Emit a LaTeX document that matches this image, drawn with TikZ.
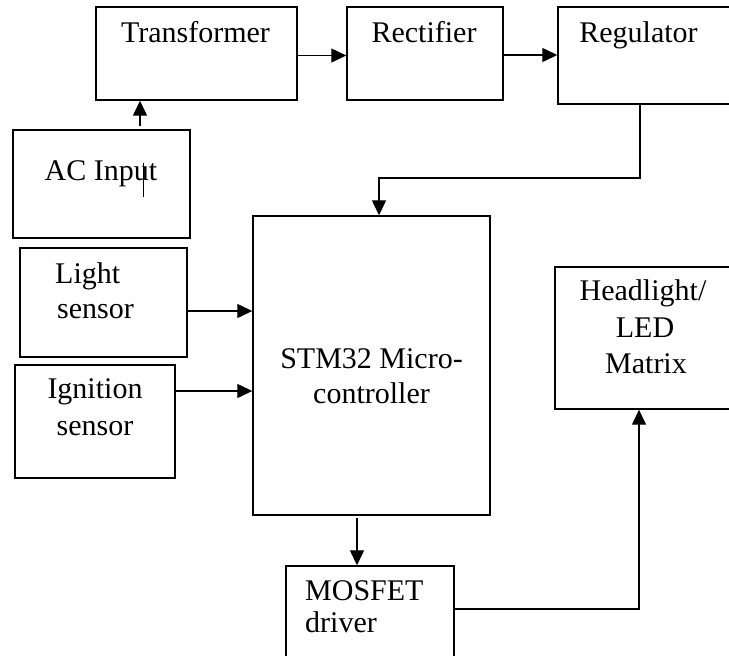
\documentclass[tikz,border=0pt]{standalone}
\usepackage{fontspec}
\setmainfont{Liberation Serif}
\usetikzlibrary{arrows.meta}
\tikzset{
  box/.style={draw, line width=1.4pt, inner sep=0pt},
  lbl/.style={inner sep=0pt, anchor=base, font=\fontsize{30}{36}\selectfont},
  lbll/.style={inner sep=0pt, anchor=base west, font=\fontsize{30}{36}\selectfont},
  arr/.style={line width=1.3pt, -{Triangle[length=15pt,width=14pt]}},
  wire/.style={line width=1.3pt}
}
\begin{document}
\begin{tikzpicture}[x=1pt,y=-1pt]
\useasboundingbox (0,0) rectangle (729,656);
% boxes
\node[box, minimum width=201pt, minimum height=93pt] (tr) at (196.5,53.5) {};
\node[box, minimum width=156pt, minimum height=93pt] (re) at (425,53.5) {};
\node[box, minimum width=180pt, minimum height=97pt] (rg) at (648,55.5) {};
\node[box, minimum width=177pt, minimum height=108pt] (ac) at (101.5,184) {};
\node[box, minimum width=237pt, minimum height=299pt] (stm) at (371.5,365.5) {};
\node[box, minimum width=167pt, minimum height=109pt] (ls) at (103.5,302.5) {};
\node[box, minimum width=160pt, minimum height=113pt] (ig) at (95,421.5) {};
\node[box, minimum width=180pt, minimum height=142pt] (hl) at (645,338) {};
\node[box, minimum width=168pt, minimum height=100pt] (mo) at (370,616) {};
% texts
\node[lbl] (trt) at (195.5,42) {Transformer};
\node[lbl] (ret) at (424,42) {Rectifier};
\node[lbl] (rgt) at (638.5,42) {Regulator};
\node[lbl] (act) at (101,180) {AC Input};
\node[lbll] (lst1) at (55,283) {Light};
\node[lbll] (lst2) at (57,318) {sensor};
\node[lbl] (igt1) at (95,398) {Ignition};
\node[lbl] (igt2) at (95,435) {sensor};
\node[lbl] (stt1) at (371.5,368) {STM32 Micro-};
\node[lbl] (stt2) at (371.5,403) {controller};
\node[lbl] (hlt1) at (643,300) {Headlight/};
\node[lbl] (hlt2) at (645,337) {LED};
\node[lbl] (hlt3) at (646,373) {Matrix};
\node[lbll] (mot1) at (305,600) {MOSFET};
\node[lbll] (mot2) at (305,632) {driver};
% stray mark in AC Input
\draw[line width=1pt] (143,163) -- (143,197);
% connectors
\draw[arr] ([xshift=38.5pt,yshift=3pt]ac.north) -- ([xshift=38.5pt]ac.north |- tr.south);
\draw[arr] ([yshift=-2pt]tr.east) -- ([yshift=-2pt]tr.east -| re.west);
\draw[arr] ([yshift=-1.5pt]re.east) -- ([yshift=-1.5pt]re.east -| rg.west);
\coordinate (j1) at (379,178);
\draw[arr] ([xshift=-8pt]rg.south) |- (j1) -- (j1 |- stm.north);
\draw[arr] ([yshift=-8.5pt]ls.east) -- ([yshift=-8.5pt]ls.east -| stm.west);
\draw[arr] ([yshift=30.5pt]ig.east) -- ([yshift=30.5pt]ig.east -| stm.west);
\draw[arr] ([xshift=-14.5pt,yshift=-2pt]stm.south) -- ([xshift=-14.5pt]stm.south |- mo.north);
\draw[arr] ([yshift=7pt]mo.east) -| ([xshift=-6pt]hl.south);
\end{tikzpicture}
\end{document}
